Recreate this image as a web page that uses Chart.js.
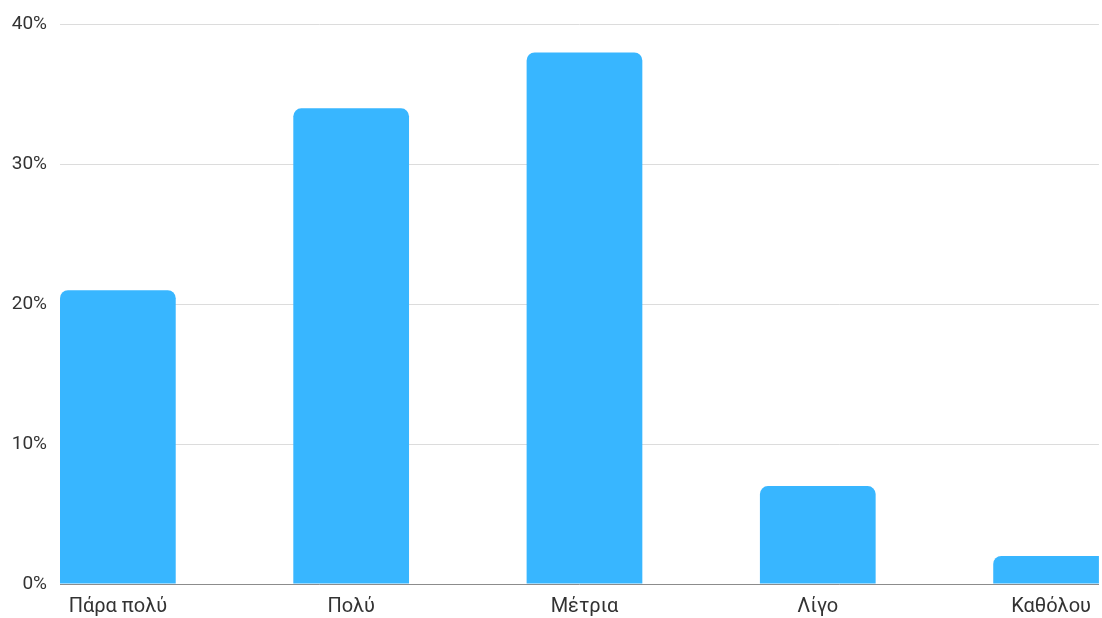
<!DOCTYPE html>
<html>
<head>
<meta charset="utf-8">
<script src="https://cdn.jsdelivr.net/npm/chart.js@4/dist/chart.umd.min.js"></script>
<style>
  html, body { margin: 0; padding: 0; background: #fff; overflow: hidden; }
  #wrap { width: 1102px; height: 618px; }
</style>
</head>
<body>
<div id="wrap"><canvas id="answerChart"></canvas></div>
<script>
"use strict";

// answer categories and share of responses (%)
const categories = ["Πάρα πολύ", "Πολύ", "Μέτρια", "Λίγο", "Καθόλου"];
const shares = [21, 34, 38, 7, 2];
const yTicks = [0, 10, 20, 30, 40];

document.addEventListener("DOMContentLoaded", () => {
  const ctx = document.getElementById("answerChart");

  // bars sit on index positions so the first bar can start right at the plot edge
  const points = shares.map((v, i) => ({ x: i, y: v }));

  new Chart(ctx, {
    type: "bar",
    data: {
      datasets: [
        {
          data: points,
          backgroundColor: "#38b6ff",
          borderRadius: { topLeft: 8, topRight: 8 },
          borderSkipped: "start",
          categoryPercentage: 1,
          barPercentage: 0.496,
        },
      ],
    },
    options: {
      responsive: true,
      maintainAspectRatio: false,
      animation: false,
      layout: { padding: { top: 23, bottom: 0, left: 0, right: 0 } },
      plugins: {
        legend: { display: false },
        tooltip: { enabled: false },
      },
      scales: {
        x: {
          type: "linear",
          offset: false,
          min: -0.248,
          max: 4.205,
          grid: { display: false, drawTicks: false, offset: false },
          border: { display: true, color: "#8c8c8c", width: 1 },
          afterBuildTicks: (scale) => {
            scale.ticks = categories.map((c, i) => ({ value: i }));
          },
          afterFit: (scale) => {
            scale.height = 34;
          },
          ticks: {
            padding: 11,
            color: "#333",
            font: { family: "Roboto", size: 20 },
            callback: (value, index) => categories[index],
          },
        },
        y: {
          min: 0,
          max: 40,
          afterBuildTicks: (scale) => {
            scale.ticks = yTicks.map((v) => ({ value: v }));
          },
          afterFit: (scale) => {
            scale.width = 60;
          },
          grid: { color: "#dcdcdc", drawTicks: false },
          border: { display: false },
          ticks: {
            padding: 13,
            color: "#333",
            font: { family: "Roboto", size: 19 },
            callback: (value) => value + "%",
          },
        },
      },
    },
  });
});
</script>
</body>
</html>
